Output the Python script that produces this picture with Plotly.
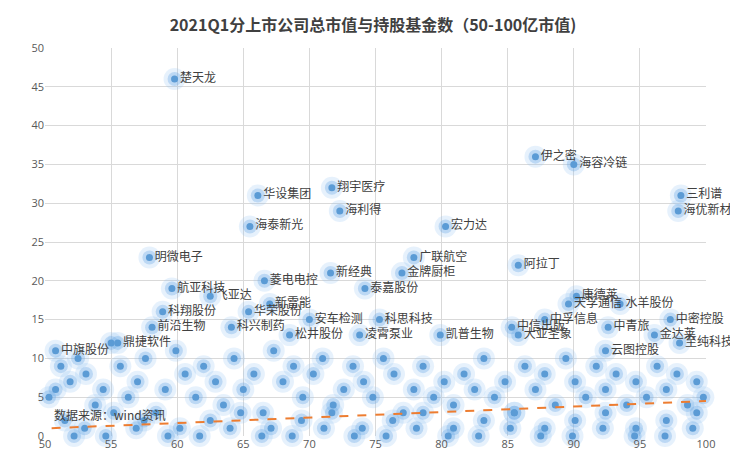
import plotly.graph_objects as go

names = ["楚天龙","伊之密","海容冷链","三利谱","海优新材","翔宇医疗","华设集团","海利得","海泰新光","宏力达",
         "明微电子","广联航空","阿拉丁","菱电电控","新经典","金牌厨柜","航亚科技","泰嘉股份","飞亚达","新雷能",
         "科翔股份","华荣股份","安车检测","科兴制药","松井股份","科思科技","凌霄泵业","凯普生物","康德莱","天孚通信",
         "水羊股份","中孚信息","中密控股","中信出版","大亚圣象","中青旅","金达莱","至纯科技","云图控股","前沿生物",
         "中旗股份","鼎捷软件"]
mcap = [59.8,87.1,90.0,98.1,97.9,71.7,66.1,72.3,65.5,80.3,
        57.9,77.9,85.8,66.6,71.6,77.0,59.6,74.2,62.5,67.0,
        58.9,65.4,70.0,64.1,68.5,75.3,73.8,79.9,90.2,89.6,
        93.5,87.8,97.3,85.3,85.8,92.6,96.1,98.0,92.4,58.1,
        50.8,55.5]
funds = [46,36,35,31,29,32,31,29,27,27,
         23,23,22,20,21,21,19,19,18,17,
         16,16,15,14,13,15,13,13,18,17,
         17,15,15,14,13,14,13,12,11,14,
         11,12]

# dense low cluster (unlabelled: the overlapping text in the reference is illegible)
cl_x = [50.3,50.8,51.2,51.9,52.5,53.1,53.8,54.4,55.0,55.7,56.3,57.0,57.6,58.4,59.1,59.9,60.6,61.4,62.0,62.9,
        63.5,64.3,65.0,65.8,66.5,67.3,68.0,68.8,69.5,70.3,71.0,71.8,72.6,73.3,74.1,74.8,75.6,76.4,77.1,77.9,
        78.6,79.4,80.2,80.9,81.7,82.5,83.2,84.0,84.8,85.5,86.3,87.1,87.8,88.6,89.4,90.1,90.9,91.7,92.4,93.2,
        94.0,94.7,95.5,96.3,97.0,97.8,98.6,99.3,99.8,
        51.5,53.0,55.2,57.5,60.2,62.5,64.8,67.1,69.4,71.7,74.0,76.3,78.6,80.9,83.2,85.5,87.8,90.1,92.4,94.7,97.0,99.3,
        52.2,54.6,56.9,59.3,61.7,64.0,66.4,68.7,71.1,73.4,75.8,78.1,80.5,82.8,85.2,87.5,89.9,92.2,94.6,96.9,99.0]
cl_y = [5,6,9,7,10,8,4,6,12,9,5,7,10,3,6,11,8,5,9,7,
        4,10,6,8,3,11,7,9,5,8,10,4,6,9,7,5,10,8,3,6,
        9,5,7,4,8,6,10,5,7,3,9,6,8,4,10,7,5,9,6,8,
        4,7,5,9,6,8,4,7,5,
        2,1,3,2,1,2,3,1,2,3,1,2,3,1,2,3,1,2,3,1,2,3,
        0,0,1,0,0,1,0,0,1,0,0,1,0,0,1,0,0,1,0,0,1]

trend_x = [50.5, 100]
trend_y = [1.0, 4.5]

blue = "#5B9BD5"
allx = mcap + cl_x
ally = funds + cl_y

fig = go.Figure()
fig.add_trace(go.Scatter(x=allx, y=ally, mode="markers", cliponaxis=False,
                         marker=dict(size=22, color="rgba(140,190,240,0.22)"), hoverinfo="skip"))
fig.add_trace(go.Scatter(x=allx, y=ally, mode="markers", cliponaxis=False,
                         marker=dict(size=14, color="rgba(110,170,230,0.35)"), hoverinfo="skip"))
fig.add_trace(go.Scatter(x=allx, y=ally, mode="markers", cliponaxis=False,
                         marker=dict(size=7, color=blue)))
fig.add_trace(go.Scatter(x=mcap, y=funds, mode="text", text=["  " + n for n in names],
                         textposition="middle right", cliponaxis=False,
                         textfont=dict(size=12, color="#404040", family="Noto Sans CJK SC")))
fig.add_trace(go.Scatter(x=trend_x, y=trend_y, mode="lines",
                         line=dict(color="#ED7D31", width=2, dash="dash")))
fig.add_annotation(x=50.5, y=2.8, xref="x", yref="y", text="数据来源：wind资讯", showarrow=False,
                   xanchor="left", font=dict(size=12, color="#404040", family="Noto Sans CJK SC"))

fig.update_layout(
    width=730, height=455, showlegend=False, plot_bgcolor="white", paper_bgcolor="white",
    margin=dict(l=37, r=32, t=40, b=27, autoexpand=False),
    title=dict(text="<b>2021Q1分上市公司总市值与持股基金数（50-100亿市值)</b>", x=0.5, y=0.975,
               font=dict(size=16, color="#404040", family="Noto Sans CJK SC")),
    xaxis=dict(range=[50, 100], dtick=5, showgrid=True, gridcolor="#d9d9d9", zeroline=False,
               tickfont=dict(size=11, color="#595959"), showline=False, automargin=False),
    yaxis=dict(range=[0, 50], dtick=5, showgrid=True, gridcolor="#d9d9d9", zeroline=False,
               tickfont=dict(size=11, color="#595959"), automargin=False),
)
fig.write_html("out.html")
